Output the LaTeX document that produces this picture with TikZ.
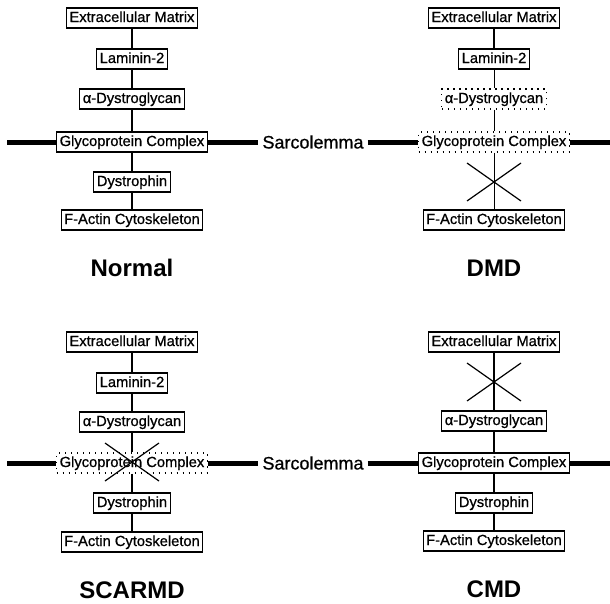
\documentclass[tikz,border=0pt]{standalone}
\usepackage{fontspec}
\setsansfont{Liberation Sans}
\newfontfamily\protfont[FakeBold=0.8]{Liberation Sans}

\tikzstyle{prot} = [draw, line width=1.2pt, fill=white, inner xsep=3pt, inner ysep=3pt, text height=11pt, text depth=3pt, font=\protfont\fontsize{14.7}{15}\selectfont]
\tikzstyle{lost} = [prot, line width=1.1pt, dash pattern=on 1.2pt off 4.8pt]
\tikzstyle{link} = [line width=1.2pt]
\tikzstyle{weak} = [line width=0.7pt]
\tikzstyle{membrane} = [line width=5pt]
\tikzstyle{cut} = [line width=1.2pt]
\tikzstyle{sarc} = [inner xsep=4pt, font=\protfont\fontsize{18}{18}\selectfont]
\tikzstyle{title} = [font=\sffamily\bfseries\fontsize{24}{24}\selectfont]

\begin{document}
\begin{tikzpicture}[x=1pt, y=-1pt]
\useasboundingbox (0,0) rectangle (610,603);

\node[prot] (n-ecm) at (132,18) {Extracellular Matrix};
\node[prot] (n-lam) at (132,59) {Laminin-2};
\node[prot] (n-dg)  at (132,99) {α-Dystroglycan};
\node[prot] (n-gc)  at (132,142) {Glycoprotein Complex};
\node[prot] (n-dys) at (132,182) {Dystrophin};
\node[prot] (n-act) at (132,220) {F-Actin Cytoskeleton};
\node[title] (n-lbl) at (132,268) {Normal};

\node[prot] (d-ecm) at (494,18) {Extracellular Matrix};
\node[prot] (d-lam) at (494,59) {Laminin-2};
\node[lost] (d-dg)  at (494,99) {α-Dystroglycan};
\node[lost] (d-gc)  at (494,142) {Glycoprotein Complex};
\coordinate (d-x)   at (494,182);
\node[prot] (d-act) at (494,220) {F-Actin Cytoskeleton};
\node[title] (d-lbl) at (494,268) {DMD};

\node[prot] (s-ecm) at (132,342) {Extracellular Matrix};
\node[prot] (s-lam) at (132,383) {Laminin-2};
\node[prot] (s-dg)  at (132,422) {α-Dystroglycan};
\node[lost] (s-gc)  at (132,463) {Glycoprotein Complex};
\coordinate (s-x)   at (132,462);
\node[prot] (s-dys) at (132,503) {Dystrophin};
\node[prot] (s-act) at (132,542) {F-Actin Cytoskeleton};
\node[title] (s-lbl) at (132,590) {SCARMD};

\node[prot] (c-ecm) at (494,342) {Extracellular Matrix};
\coordinate (c-x)   at (494,382);
\node[prot] (c-dg)  at (494,421) {α-Dystroglycan};
\node[prot] (c-gc)  at (494,463) {Glycoprotein Complex};
\node[prot] (c-dys) at (494,503) {Dystrophin};
\node[prot] (c-act) at (494,541) {F-Actin Cytoskeleton};
\node[title] (c-lbl) at (494,589) {CMD};

\node[sarc] (top-sarc) at (313,142) {Sarcolemma};
\node[sarc] (bot-sarc) at (313,463) {Sarcolemma};
\coordinate (top-l) at (7,142);
\coordinate (top-r) at (610,142);
\coordinate (bot-l) at (7,463);
\coordinate (bot-r) at (610,463);

\draw[membrane] (top-l) -- (n-gc.west);
\draw[membrane] (n-gc.east) -- (top-sarc.west);
\draw[membrane] (top-sarc.east) -- (d-gc.west);
\draw[membrane] (d-gc.east) -- (top-r);
\draw[membrane] (bot-l) -- (s-gc.west);
\draw[membrane] (s-gc.east) -- (bot-sarc.west);
\draw[membrane] (bot-sarc.east) -- (c-gc.west);
\draw[membrane] (c-gc.east) -- (bot-r);

\draw[link] (n-ecm) -- (n-lam);
\draw[link] (n-lam) -- (n-dg);
\draw[link] (n-dg) -- (n-gc);
\draw[link] (n-gc) -- (n-dys);
\draw[link] (n-dys) -- (n-act);

\draw[link] (d-ecm) -- (d-lam);
\draw[weak] (d-lam) -- (d-dg);
\draw[weak] (d-dg) -- (d-gc);
\draw[weak] (d-gc) -- (d-act);

\draw[link] (s-ecm) -- (s-lam);
\draw[link] (s-lam) -- (s-dg);
\draw[link] (s-dg) -- (s-gc);
\draw[link] (s-gc) -- (s-dys);
\draw[link] (s-dys) -- (s-act);

\draw[link] (c-ecm) -- (c-dg);
\draw[link] (c-dg) -- (c-gc);
\draw[link] (c-gc) -- (c-dys);
\draw[link] (c-dys) -- (c-act);

\draw[cut] ([shift={(-27,-19)}]d-x) -- ([shift={(27,19)}]d-x);
\draw[cut] ([shift={(-27,19)}]d-x) -- ([shift={(27,-19)}]d-x);
\draw[cut] ([shift={(-27,-19)}]s-x) -- ([shift={(27,19)}]s-x);
\draw[cut] ([shift={(-27,19)}]s-x) -- ([shift={(27,-19)}]s-x);
\draw[cut] ([shift={(-27,-19)}]c-x) -- ([shift={(27,19)}]c-x);
\draw[cut] ([shift={(-27,19)}]c-x) -- ([shift={(27,-19)}]c-x);
\end{tikzpicture}
\end{document}
